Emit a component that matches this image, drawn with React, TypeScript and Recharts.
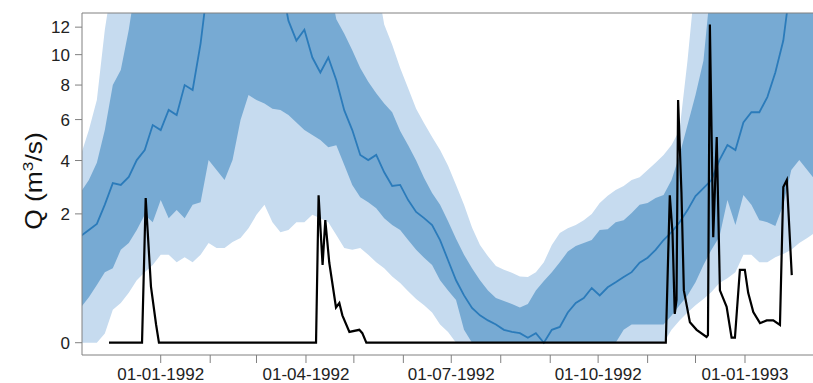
import { Area, ComposedChart, Line, ReferenceLine, XAxis, YAxis } from "recharts";

// simulation grid, days since 01-01-1992
const days = [
  -50, -45, -40, -35, -30, -25, -20, -15, -10, -5, 0, 5, 10, 15, 20, 25, 30, 35, 40, 45,
  50, 55, 60, 65, 70, 75, 80, 85, 90, 95, 100, 105, 110, 115, 120, 125, 130, 135, 140, 145,
  150, 155, 160, 165, 170, 175, 180, 185, 190, 195, 200, 205, 210, 215, 220, 225, 230, 235, 240, 245,
  250, 255, 260, 265, 270, 275, 280, 285, 290, 295, 300, 305, 310, 315, 320, 325, 330, 335, 340, 345,
  350, 355, 360, 365, 370, 375, 380, 385, 390, 395, 400, 405, 410,
];

// outer band (light)
const lightLow = [
  0, 0, 0, 0.01, 0.13, 0.19, 0.3, 0.47, 0.6, 0.73, 0.93, 0.93, 0.78, 0.88, 0.78, 0.93, 1.2, 1.08, 1.08, 1.22,
  1.32, 1.58, 1.97, 2.29, 1.75, 1.47, 1.53, 1.75, 1.75, 1.97, 1.87, 1.75, 1.4, 1.08, 1.04, 1.08, 0.93, 0.78, 0.67, 0.53,
  0.43, 0.32, 0.23, 0.17, 0.11, 0.04, 0.014, 0, 0, 0, 0, 0, 0, 0, 0, 0, 0, 0, 0, 0,
  0, 0, 0, 0, 0, 0, 0, 0, 0, 0, 0, 0, 0, 0, 0.02, 0.06, 0.11, 0.17, 0.23, 0.31,
  0.43, 0.5, 0.6, 0.93, 0.93, 0.78, 0.78, 0.88, 0.95, 1.04, 1.2, 1.32, 1.47,
];
const lightHigh = [
  4.25, 5.45, 7.1, 11.8, 16, 16, 16, 16, 16, 16, 16, 16, 16, 16, 16, 16, 16, 16, 16, 16,
  16, 16, 16, 16, 16, 16, 16, 16, 16, 16, 16, 16, 16, 16, 16, 16, 16, 16, 12.2, 10.7,
  9.1, 7.8, 6.6, 5.8, 5.1, 4.47, 3.77, 3.0, 2.29, 1.6, 1.15, 0.9, 0.71, 0.64, 0.59, 0.53, 0.52, 0.6, 0.78, 1.15,
  1.45, 1.58, 1.67, 1.81, 2.0, 2.35, 2.6, 2.81, 2.96, 3.19, 3.3, 3.59, 3.9, 4.25, 4.71, 5.45, 9.6, 16, 16, 16,
  16, 16, 16, 16, 16, 16, 16, 16, 16, 16, 16, 16, 16,
];

// inner band (dark)
const darkLow = [
  0.15, 0.25, 0.4, 0.6, 0.67, 1.04, 1.2, 1.53, 1.97, 1.75, 2.45, 1.87, 2.12, 1.87, 2.29, 2.38, 4.02, 3.59, 3.19, 4.02,
  5.98, 7.39, 7.1, 6.9, 6.6, 6.53, 6.25, 5.85, 5.45, 5.2, 4.95, 4.6, 4.7, 3.81, 3.0, 2.55, 2.38, 2.18, 1.87, 1.67,
  1.53, 1.27, 1.04, 0.87, 0.73, 0.47, 0.33, 0.22, 0.02, 0, 0, 0, 0, 0, 0, 0, 0, 0, 0, 0,
  0, 0, 0, 0, 0, 0, 0, 0, 0.02, 0.04, 0.04, 0.04, 0.04, 0.04, 0.09, 0.17, 0.27, 0.44, 0.73, 1.04,
  1.35, 2.45, 1.67, 2.63, 2.29, 1.81, 1.75, 1.64, 2.29, 3.59, 4.02, 3.59, 3.19,
];
const darkHigh = [
  2.74, 3.19, 3.9, 5.45, 8.0, 8.96, 11.8, 16, 16, 16, 16, 16, 16, 16, 16, 16, 16, 16, 16, 16,
  16, 16, 16, 16, 16, 16, 16, 16, 16, 16, 16, 16, 12.6, 11.5, 10.3, 9.1, 8.2, 7.5, 6.9, 6.4,
  5.4, 4.7, 4.0, 3.27, 2.7, 2.29, 1.78, 1.3, 0.93, 0.67, 0.47, 0.33, 0.24, 0.21, 0.18, 0.15, 0.18, 0.33, 0.46, 0.6,
  0.78, 1.0, 1.13, 1.2, 1.27, 1.53, 1.55, 1.75, 1.81, 2.03, 2.29, 2.35, 2.52, 2.63, 3.19, 4.25, 5.71, 7.4, 9.6, 16,
  16, 16, 16, 16, 16, 16, 16, 16, 16, 16, 16, 16, 16,
];

const median = [
  1.37, 1.53, 1.7, 2.3, 3.07, 3.0, 3.31, 4.02, 4.47, 5.71, 5.45, 6.53, 6.25, 8.0, 7.7, 10.8, 16, 16, 16, 16,
  16, 16, 16, 16, 16, 16, 12.5, 11.0, 11.8, 9.8, 8.8, 9.8, 8.3, 6.5, 5.45, 4.25, 4.02, 4.25, 3.5, 2.96,
  3.0, 2.45, 2.06, 1.87, 1.67, 1.27, 0.82, 0.47, 0.27, 0.145, 0.09, 0.06, 0.04, 0.02, 0.014, 0.011, 0.003, 0.011, 0, 0.02,
  0.03, 0.11, 0.19, 0.24, 0.36, 0.27, 0.37, 0.44, 0.52, 0.6, 0.77, 0.87, 1.04, 1.27, 1.47, 1.75, 2.12, 2.59, 2.88, 3.19,
  4.02, 4.71, 4.47, 5.85, 6.4, 6.4, 7.27, 8.8, 11.0, 16, 16, 16, 16,
];

// observed discharge
const obsDays = [
  -32.4, -11.7, -9.4, -6.1, -2.9, -1.1, 97.3, 98.9, 101.4, 103.1, 105.6, 109.8, 111.9, 113.8, 118.2, 124.4, 126.3, 128.8,
  316.4, 318.9, 320.6, 322.0, 323.1, 324.1, 326.2, 327.7, 331.5, 335.7, 341.9, 342.8, 344.0, 346.1, 348.3, 350.3, 354.5,
  357.6, 359.7, 362.8, 365.9, 368.0, 371.2, 375.4, 379.6, 383.7, 387.9, 390.0, 392.2, 395.3,
];
const obsFlow = [
  0, 0, 2.52, 0.38, 0.04, 0, 0, 2.62, 0.73, 1.81, 0.77, 0.15, 0.19, 0.09, 0.014, 0.02, 0.011, 0,
  0, 2.62, 1.45, 0.1, 0.22, 7.1, 2.72, 0.33, 0.05, 0.02, 0.004, 0.007, 12.2, 1.34, 5.1, 0.33, 0.155,
  0.003, 0.003, 0.64, 0.64, 0.3, 0.114, 0.046, 0.06, 0.06, 0.038, 2.92, 3.19, 0.55,
];

const monthTicks = [0, 31, 60, 91, 121, 152, 182, 213, 244, 274, 305, 335, 366];
const quarterLabels: Record<number, string> = {
  0: "01-01-1992",
  91: "01-04-1992",
  182: "01-07-1992",
  274: "01-10-1992",
  366: "01-01-1993",
};
const yTicks = [0, 2, 4, 6, 8, 10, 12];

const bands = days.map((day, i) => ({
  day,
  lightLow: lightLow[i],
  lightHigh: lightHigh[i],
  darkLow: darkLow[i],
  darkHigh: darkHigh[i],
  median: median[i],
}));
const observed = obsDays.map((day, i) => ({ day, q: obsFlow[i] }));

const FONT = "'Liberation Sans', Arial, sans-serif";
const AXIS = "#808080";

function DateTick({ x, y, payload }: any) {
  const label = quarterLabels[payload.value];
  if (!label) return <g />;
  return (
    <text x={x} y={y} dy="0.71em" textAnchor="middle" fontSize={17} fontFamily={FONT} fill="#222">
      {label}
    </text>
  );
}

function YLabel() {
  return (
    <text
      transform="translate(42,181) rotate(-90) scale(1.15,1)"
      textAnchor="middle"
      fontSize={23}
      fontFamily={FONT}
      fill="#111"
    >
      Q (m
      <tspan dy={-9} fontSize={15}>3</tspan>
      <tspan dy={9}>/s)</tspan>
    </text>
  );
}

export default function App() {
  return (
    <div style={{ position: "absolute", left: 0, top: 0, background: "#fff" }}>
      <ComposedChart
        width={813}
        height={383}
        data={bands}
        margin={{ top: 13, right: 0, bottom: 0, left: 0 }}
      >
        <XAxis
          dataKey="day"
          type="number"
          domain={[-49.3, 408.6]}
          allowDataOverflow
          ticks={monthTicks}
          tick={<DateTick />}
          tickSize={8}
          tickMargin={5}
          height={28}
          axisLine={{ stroke: AXIS }}
          tickLine={{ stroke: AXIS }}
        />
        <YAxis
          scale="sqrt"
          type="number"
          domain={[-0.0182, 13.1]}
          allowDataOverflow
          ticks={yTicks}
          width={82}
          tickSize={7}
          tickMargin={5}
          tick={{ fontSize: 17, fontFamily: FONT, fill: "#222" }}
          axisLine={{ stroke: AXIS }}
          tickLine={{ stroke: AXIS }}
          label={<YLabel />}
        />
        <Area
          type="linear"
          dataKey={(r: any) => [r.lightLow, r.lightHigh]}
          stroke="none"
          fill="#c6dbef"
          fillOpacity={1}
          isAnimationActive={false}
        />
        <Area
          type="linear"
          dataKey={(r: any) => [r.darkLow, r.darkHigh]}
          stroke="none"
          fill="#77aad3"
          fillOpacity={1}
          isAnimationActive={false}
        />
        <Line
          type="linear"
          dataKey="median"
          stroke="#2b7bba"
          strokeWidth={1.8}
          dot={false}
          isAnimationActive={false}
        />
        <Line
          type="linear"
          data={observed}
          dataKey="q"
          stroke="#000"
          strokeWidth={2.2}
          dot={false}
          isAnimationActive={false}
        />
        <ReferenceLine y={13.1} stroke={AXIS} />
      </ComposedChart>
    </div>
  );
}
